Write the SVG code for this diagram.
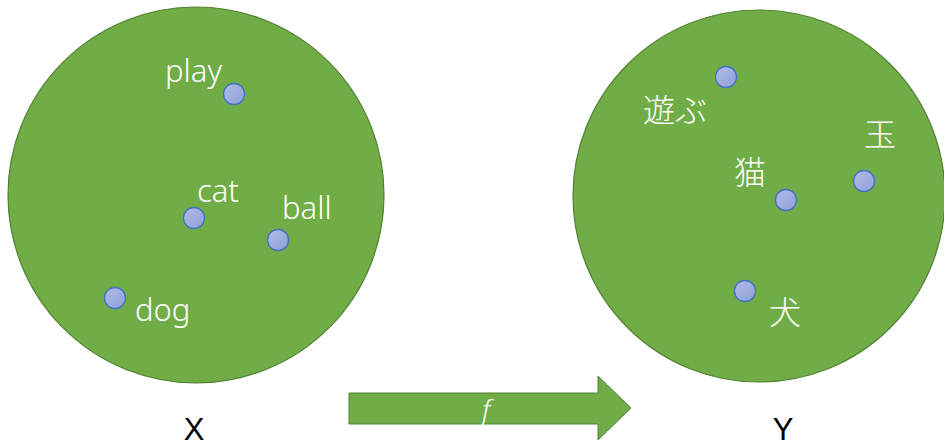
<svg xmlns="http://www.w3.org/2000/svg" width="944" height="447" viewBox="0 0 944 447">
<defs>
<linearGradient id="dotg" x1="0" y1="0" x2="1" y2="1">
<stop offset="0" stop-color="#B1BDE8"/>
<stop offset="1" stop-color="#8E9FD8"/>
</linearGradient>
</defs>
<style>
.space{fill:#70AD47;stroke:#538135;stroke-width:1.2}
.dot{fill:url(#dotg);stroke:#4472C4;stroke-width:1.3}
.lbl{fill:#FFFFFF;font-family:"Noto Sans","Noto Sans CJK JP",sans-serif;font-weight:300;font-size:31px}
.jp{fill:#FFFFFF;font-family:"Noto Sans CJK JP",sans-serif;font-weight:300;font-size:32px}
.axis{fill:#000000;font-family:"Liberation Sans",Arial,sans-serif;font-size:31px}
</style>
<rect width="944" height="447" fill="#FFFFFF"/>
<g id="space-X">
<circle class="space" cx="196" cy="195" r="188"/>
<text class="axis" x="194" y="440" text-anchor="middle">X</text>
</g>
<g id="space-Y">
<circle class="space" cx="759" cy="196" r="186"/>
<text class="axis" x="783" y="440" text-anchor="middle">Y</text>
</g>
<g id="connectors">
<g id="arrow-f">
<polygon points="349,393 598,393 598,376 631,408 598,440 598,424 349,424" fill="#70AD47" stroke="#538135" stroke-width="1"/>
<text x="486" y="420" text-anchor="middle" fill="#FFFFFF" font-family="'Noto Sans',sans-serif" font-weight="300" font-style="italic" font-size="28">f</text>
</g>
</g>
<g id="node-play">
<circle class="dot" cx="234" cy="94" r="10.5"/>
<text class="lbl" x="165" y="82">play</text>
</g>
<g id="node-cat">
<circle class="dot" cx="194" cy="218" r="10.5"/>
<text class="lbl" x="197" y="202">cat</text>
</g>
<g id="node-ball">
<circle class="dot" cx="278" cy="240" r="10.5"/>
<text class="lbl" x="282" y="219">ball</text>
</g>
<g id="node-dog">
<circle class="dot" cx="115" cy="298" r="10.5"/>
<text class="lbl" x="135" y="321">dog</text>
</g>
<g id="node-asobu">
<circle class="dot" cx="726" cy="77" r="10.5"/>
<text class="jp" x="643" y="122">遊ぶ</text>
</g>
<g id="node-neko">
<circle class="dot" cx="786" cy="200" r="10.5"/>
<text class="jp" x="734" y="184">猫</text>
</g>
<g id="node-tama">
<circle class="dot" cx="864" cy="181" r="10.5"/>
<text class="jp" x="864" y="146">玉</text>
</g>
<g id="node-inu">
<circle class="dot" cx="745" cy="291" r="10.5"/>
<text class="jp" x="769" y="324">犬</text>
</g>
</svg>
